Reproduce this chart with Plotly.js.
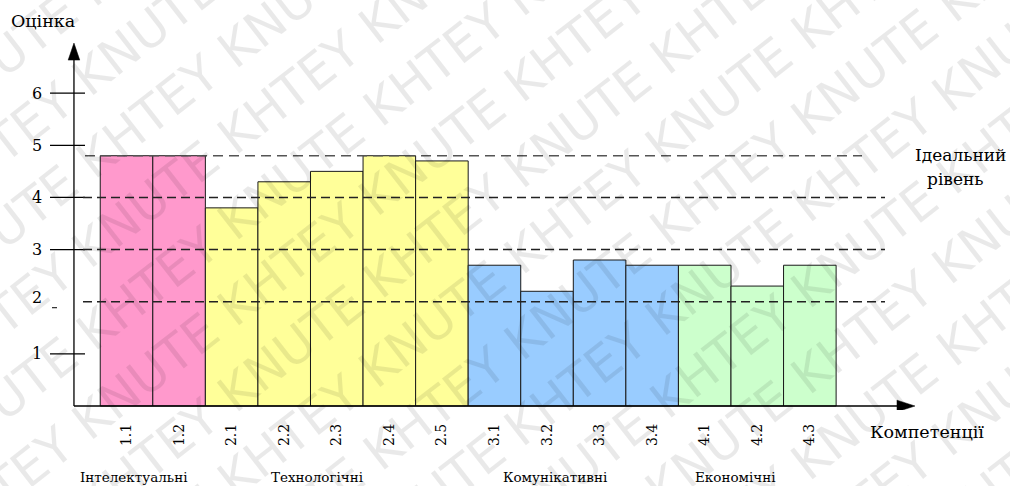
<!DOCTYPE html>
<html>
<head>
<meta charset="utf-8">
<script src="https://cdn.plot.ly/plotly-3.0.1.min.js"></script>
<style>
  html, body { margin: 0; padding: 0; background: #fff; }
  #chart { width: 1010px; height: 486px; }
</style>
</head>
<body>
<div id="chart"></div>
<script>
// Competence codes and their scores
const codes = ['1.1', '1.2', '2.1', '2.2', '2.3', '2.4', '2.5', '3.1', '3.2', '3.3', '3.4', '4.1', '4.2', '4.3'];
const scores = [4.8, 4.8, 3.8, 4.3, 4.5, 4.8, 4.7, 2.7, 2.2, 2.8, 2.7, 2.7, 2.3, 2.7];
// Group of each competence (index into groupNames)
const groupOf = [0, 0, 1, 1, 1, 1, 1, 2, 2, 2, 2, 3, 3, 3];
const groupNames = ['Інтелектуальні', 'Технологічні', 'Комунікативні', 'Економічні'];
const groupColors = ['#ff99cc', '#ffff99', '#99ccff', '#ccffcc'];
// Reference levels
const levelLines = [2, 3, 4];
const idealLevel = 4.8;
const yTicks = [1, 2, 3, 4, 5, 6];

const yTitle = 'Оцінка';
const xTitle = 'Компетенції';
const idealLabel = ['Ідеальний', 'рівень'];
const watermarkWords = ['KHTEY', 'KNUTE'];

const serif = 'DejaVu Serif';
const idx = codes.map((c, i) => i);

// Plot area geometry (pixels) and axis ranges
const W = 1010, H = 486;
const M = { l: 40, r: 80, t: 30, b: 76 };
const xRange = [-1.646, 15.286];
const yRange = [-0.0767, 7.211];
const plotW = W - M.l - M.r, plotH = H - M.t - M.b;
const ux = plotW / (xRange[1] - xRange[0]);   // px per x unit
const uy = plotH / (yRange[1] - yRange[0]);   // px per y unit
const pxToX = px => xRange[0] + (px - M.l) / ux;
const paperX = px => (px - M.l) / plotW;
const paperY = py => (H - M.b - py) / plotH;

const axisX = -1;   // position of the vertical axis
const axisEndX = 15; // tip of horizontal arrow
const axisTopY = 6.96;

const shapes = [];
// axis lines
shapes.push({ type: 'line', xref: 'x', yref: 'y', x0: axisX, x1: axisEndX - 17 / ux, y0: 0, y1: 0,
  line: { color: '#000', width: 1.3 }, layer: 'above' });
shapes.push({ type: 'line', xref: 'x', yref: 'y', x0: axisX, x1: axisX, y0: 0, y1: axisTopY - 16 / uy,
  line: { color: '#000', width: 1.3 }, layer: 'above' });
// arrowheads
const hw = 5.8;
shapes.push({ type: 'path', xref: 'x', yref: 'y', layer: 'above',
  path: `M ${axisX - hw / ux} ${axisTopY - 17 / uy} L ${axisX + hw / ux} ${axisTopY - 17 / uy} L ${axisX} ${axisTopY} Z`,
  fillcolor: '#000', line: { color: '#000', width: 0.5 } });
shapes.push({ type: 'path', xref: 'x', yref: 'y', layer: 'above',
  path: `M ${axisEndX - 18 / ux} ${hw / uy} L ${axisEndX - 18 / ux} ${-hw / uy} L ${axisEndX} 0 Z`,
  fillcolor: '#000', line: { color: '#000', width: 0.5 } });
// tick marks crossing the vertical axis
yTicks.forEach(v => {
  if (v === 2) {
    shapes.push({ type: 'line', xref: 'x', yref: 'y', x0: pxToX(52), x1: pxToX(57), y0: v - 6 / uy, y1: v - 6 / uy,
      line: { color: '#000', width: 1 }, layer: 'above' });
  } else {
    shapes.push({ type: 'line', xref: 'x', yref: 'y', x0: pxToX(50), x1: pxToX(85), y0: v, y1: v,
      line: { color: '#000', width: 1.2 }, layer: 'above' });
  }
});
// dashed reference levels
levelLines.forEach(v => {
  shapes.push({ type: 'line', xref: 'x', yref: 'y', x0: pxToX(83), x1: pxToX(885), y0: v, y1: v,
    line: { color: '#222', width: 1.4, dash: '9px,5px' }, layer: 'above' });
});
shapes.push({ type: 'line', xref: 'x', yref: 'y', x0: pxToX(85), x1: pxToX(862), y0: idealLevel, y1: idealLevel,
  line: { color: '#555', width: 1.5, dash: '10px,6px' }, layer: 'above' });

const annotations = [];
const label = (px, py, text, size, xanchor) => annotations.push({
  xref: 'paper', yref: 'paper', x: paperX(px), y: paperY(py), text: text, showarrow: false,
  xanchor: xanchor || 'center', yanchor: 'middle', font: { family: serif, size: size, color: '#000' } });

// y tick labels
yTicks.forEach(v => {
  const py = H - M.b - (v - yRange[0]) * uy;
  label(44, py - (v === 2 ? 4 : 0), String(v), 16, 'right');
});
// axis titles
label(43, 21, yTitle, 17.5);
label(927, 432, xTitle, 17.5);
// ideal level label
label(960, 155, idealLabel[0], 17);
label(955, 179, idealLabel[1], 17);
// group names under the codes
const groupCenters = [134, 317, 555, 735];
groupNames.forEach((name, g) => label(groupCenters[g], 477, name, 13.5));
// diagonal watermark rows
const rowGap = 86;
for (let k = 0; k < 17; k++) {
  const words = [];
  for (let j = 0; j < 12; j++) words.push(watermarkWords[(j + k) % 2]);
  const cy = -420 + k * rowGap;
  annotations.push({ xref: 'paper', yref: 'paper', x: paperX(505), y: paperY(cy),
    text: words.join(' '), showarrow: false, textangle: -38, xanchor: 'center', yanchor: 'middle',
    font: { family: 'DejaVu Sans', size: 50, color: 'rgba(0,0,0,0.085)' } });
}

const trace = {
  type: 'bar',
  x: idx,
  y: scores,
  width: 1,
  marker: { color: idx.map(i => groupColors[groupOf[i]]), line: { color: '#1a1a1a', width: 1 } },
  hoverinfo: 'skip'
};

const layout = {
  width: W, height: H,
  margin: M,
  paper_bgcolor: '#ffffff',
  plot_bgcolor: '#ffffff',
  showlegend: false,
  bargap: 0,
  font: { family: serif, color: '#000' },
  xaxis: {
    range: xRange, tickmode: 'array', tickvals: idx, ticktext: codes, tickangle: -90,
    showline: false, showgrid: false, zeroline: false, ticks: '', ticklabelstandoff: 10,
    tickfont: { family: serif, size: 14, color: '#000' }, fixedrange: true
  },
  yaxis: {
    range: yRange, showticklabels: false, showline: false, showgrid: false, zeroline: false,
    ticks: '', fixedrange: true
  },
  shapes: shapes,
  annotations: annotations
};

Plotly.newPlot('chart', [trace], layout, { staticPlot: true, displayModeBar: false });
</script>
</body>
</html>
